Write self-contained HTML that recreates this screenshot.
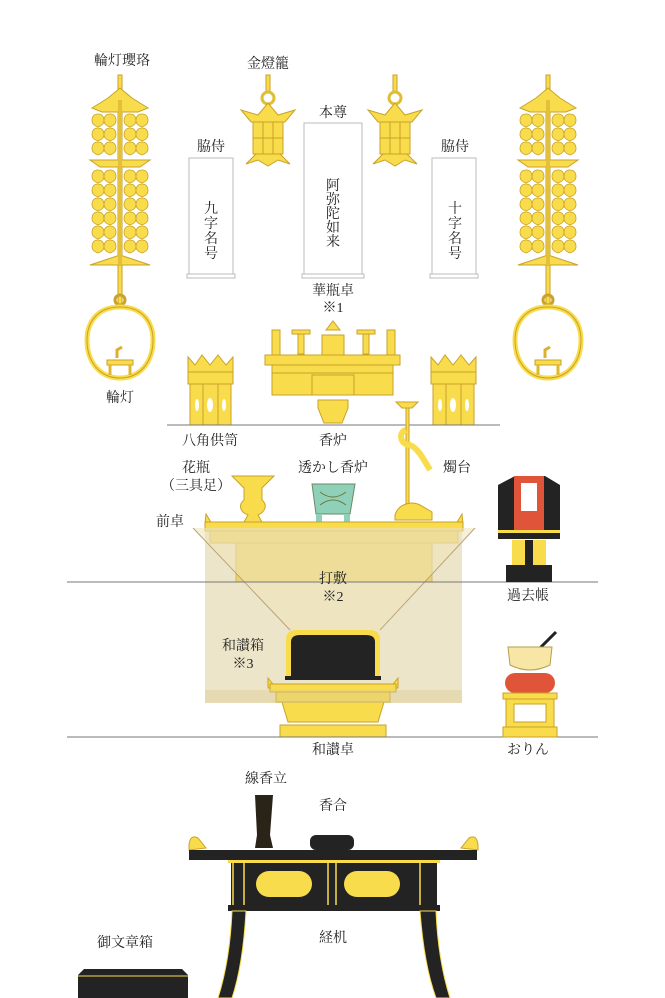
<!DOCTYPE html>
<html><head><meta charset="utf-8"><style>
html,body{margin:0;padding:0;background:#fff;}
svg{display:block;}
text{font-family:"Liberation Serif","Noto Serif CJK SC","Noto Sans CJK JP",serif;font-size:14px;fill:#222;text-anchor:middle;}
.g{fill:#f9dc4c;stroke:#c9a227;stroke-width:1;}
.k{fill:#232323;}
</style></head><body>
<svg width="665" height="998" viewBox="0 0 665 998" xmlns="http://www.w3.org/2000/svg">
<defs>
<g id="bead"><path d="M0 -6 C5 -6 6 -2 6 1 C6 4 3 6 0 7 C-3 6 -6 4 -6 1 C-6 -2 -5 -6 0 -6Z" fill="#f9dc4c" stroke="#c9a227" stroke-width="0.8"/></g>
</defs>
<!-- labels top -->
<text x="122" y="65">輪灯瓔珞</text>
<text x="268" y="68">金燈籠</text>
<text x="333" y="117">本尊</text>
<text x="211" y="151">脇侍</text>
<text x="455" y="151">脇侍</text>
<text x="333" y="295">華瓶卓</text>
<text x="333" y="312">※1</text>
<text x="120" y="402">輪灯</text>
<text x="210" y="445">八角供笥</text>
<text x="333" y="445">香炉</text>

<!-- scroll boxes -->
<rect x="189" y="158" width="44" height="116" fill="#fff" stroke="#bbb"/>
<rect x="187" y="274" width="48" height="4" fill="#fff" stroke="#bbb"/>
<rect x="304" y="123" width="58" height="151" fill="#fff" stroke="#bbb"/>
<rect x="302" y="274" width="62" height="4" fill="#fff" stroke="#bbb"/>
<rect x="432" y="158" width="44" height="116" fill="#fff" stroke="#bbb"/>
<rect x="430" y="274" width="48" height="4" fill="#fff" stroke="#bbb"/>
<g style="font-size:13px">
<text x="211" y="213">九</text><text x="211" y="228">字</text><text x="211" y="243">名</text><text x="211" y="258">号</text>
<text x="333" y="190">阿</text><text x="333" y="204">弥</text><text x="333" y="218">陀</text><text x="333" y="232">如</text><text x="333" y="246">来</text>
<text x="455" y="213">十</text><text x="455" y="228">字</text><text x="455" y="243">名</text><text x="455" y="258">号</text>
</g>

<!-- yoraku lanterns -->
<g id="yor">
<rect x="118" y="75" width="4" height="230" class="g"/>
<path d="M92 108 L108 98 L120 88 L132 98 L148 108 L138 112 L102 112Z" class="g"/>
<g>
<use href="#bead" x="98" y="120"/><use href="#bead" x="110" y="120"/><use href="#bead" x="130" y="120"/><use href="#bead" x="142" y="120"/>
<use href="#bead" x="98" y="134"/><use href="#bead" x="110" y="134"/><use href="#bead" x="130" y="134"/><use href="#bead" x="142" y="134"/>
<use href="#bead" x="98" y="148"/><use href="#bead" x="110" y="148"/><use href="#bead" x="130" y="148"/><use href="#bead" x="142" y="148"/>
</g>
<path d="M90 160 L150 160 L140 167 L100 167Z" class="g"/>
<g>
<use href="#bead" x="98" y="176"/><use href="#bead" x="110" y="176"/><use href="#bead" x="130" y="176"/><use href="#bead" x="142" y="176"/>
<use href="#bead" x="98" y="190"/><use href="#bead" x="110" y="190"/><use href="#bead" x="130" y="190"/><use href="#bead" x="142" y="190"/>
<use href="#bead" x="98" y="204"/><use href="#bead" x="110" y="204"/><use href="#bead" x="130" y="204"/><use href="#bead" x="142" y="204"/>
<use href="#bead" x="98" y="218"/><use href="#bead" x="110" y="218"/><use href="#bead" x="130" y="218"/><use href="#bead" x="142" y="218"/>
<use href="#bead" x="98" y="232"/><use href="#bead" x="110" y="232"/><use href="#bead" x="130" y="232"/><use href="#bead" x="142" y="232"/>
<use href="#bead" x="98" y="246"/><use href="#bead" x="110" y="246"/><use href="#bead" x="130" y="246"/><use href="#bead" x="142" y="246"/>
</g>
<path d="M90 265 L120 255 L150 265Z" class="g"/>
<rect x="118" y="100" width="4" height="165" fill="#e3bf3a"/>
</g>
<use href="#yor" transform="translate(428,0)"/>
<!-- ring lamps -->
<g id="rin">
<circle cx="120" cy="300" r="5" fill="none" stroke="#c9a227" stroke-width="3"/>
<path d="M120 307 C95 307 87 325 87 340 C87 362 100 378 120 378 C140 378 153 362 153 340 C153 325 145 307 120 307Z" fill="#fff" stroke="#f9dc4c" stroke-width="5"/>
<path d="M120 307 C95 307 87 325 87 340 C87 362 100 378 120 378 C140 378 153 362 153 340 C153 325 145 307 120 307Z" fill="none" stroke="#c9a227" stroke-width="1"/>
<rect x="107" y="360" width="26" height="5" class="g"/>
<path d="M110 365 L110 375 M130 365 L130 375" stroke="#e0b830" stroke-width="3"/>
<path d="M117 358 L117 350 L122 347" stroke="#d9b030" stroke-width="3" fill="none"/>
</g>
<use href="#rin" transform="translate(428,0)"/>

<!-- kin toro -->
<g id="toro">
<rect x="266" y="75" width="4" height="18" class="g"/>
<circle cx="268" cy="98" r="6" fill="none" stroke="#e0bd35" stroke-width="3"/>
<path d="M241 110 L258 115 L268 103 L278 115 L295 110 L285 122 L251 122Z" class="g"/>
<rect x="253" y="122" width="30" height="32" class="g"/>
<path d="M263 122 V154 M273 122 V154 M253 138 H283" stroke="#c9a227"/>
<path d="M246 164 L256 154 L280 154 L290 164 L278 160 L268 166 L258 160Z" class="g"/>
</g>
<use href="#toro" transform="translate(127,0)"/>

<!-- kebyo table -->
<g class="g">
<path d="M272 330 h8 v25 h-8z"/><path d="M387 330 h8 v25 h-8z"/>
<rect x="292" y="330" width="18" height="4"/><rect x="298" y="334" width="6" height="20"/>
<rect x="357" y="330" width="18" height="4"/><rect x="363" y="334" width="6" height="20"/>
<path d="M322 335 h22 v20 h-22z"/><path d="M326 330 L333 321 L340 330Z"/>
<rect x="265" y="355" width="135" height="10"/>
<rect x="272" y="365" width="121" height="8"/>
<rect x="272" y="373" width="121" height="22"/>
<rect x="312" y="375" width="42" height="20"/>
<path d="M318 400 h30 v8 l-6 15 h-18 l-6 -15z"/>
</g>
<!-- hexagonal kyosu -->
<g id="kyo">
<path d="M188 357 L195 365 L202 355 L210 365 L218 355 L226 365 L233 357 L233 372 L188 372Z" class="g"/>
<rect x="188" y="372" width="45" height="12" class="g"/>
<rect x="190" y="384" width="41" height="41" class="g"/>
<path d="M203 384 V425 M218 384 V425" stroke="#c9a227"/>
<ellipse cx="197" cy="405" rx="2" ry="6" fill="#fff"/>
<ellipse cx="210" cy="405" rx="3" ry="7" fill="#fff"/>
<ellipse cx="224" cy="405" rx="2" ry="6" fill="#fff"/>
</g>
<use href="#kyo" transform="translate(243,0)"/>
<line x1="167" y1="425" x2="500" y2="425" stroke="#777"/>

<!-- row 2 labels -->
<text x="196" y="472">花瓶</text>
<text x="196" y="490">（三具足）</text>
<text x="333" y="472">透かし香炉</text>
<text x="457" y="472">燭台</text>
<text x="170" y="526">前卓</text>

<!-- crane candle -->
<path d="M396 402 L418 402 L412 408 L402 408Z" class="g"/>
<rect x="406" y="408" width="3" height="110" class="g"/>
<path d="M406 430 C398 432 400 445 410 445 C418 448 424 460 430 470" stroke="#f9dc4c" stroke-width="6" fill="none"/>
<path d="M395 515 C398 505 410 500 420 505 L432 512 L432 520 L395 520Z" class="g"/>
<!-- vase -->
<path d="M232 476 L274 476 L262 488 L262 500 C268 505 265 512 258 515 L262 522 L244 522 L248 515 C240 512 238 505 244 500 L244 488Z" class="g"/>
<!-- green incense -->
<path d="M312 484 L355 484 L350 514 L316 514Z" fill="#8fd0b8" stroke="#6a8a6a"/>
<path d="M320 492 q13 10 26 0 M320 505 q13 -10 26 0" stroke="#6a7a40" fill="none"/>
<rect x="316" y="514" width="6" height="8" fill="#8fd0b8"/><rect x="344" y="514" width="6" height="8" fill="#8fd0b8"/>

<!-- front table -->
<g class="g">
<path d="M206 514 L212 524 L205 524Z"/><path d="M462 514 L456 524 L463 524Z"/>
<rect x="205" y="522" width="258" height="9"/>
<rect x="210" y="531" width="248" height="12"/>
<rect x="236" y="543" width="196" height="39"/>
</g>
<!-- overlay -->
<rect x="205" y="528" width="257" height="175" fill="#dccb95" opacity="0.5"/>
<path d="M193 528 L475 528 L380 630 L290 630Z" fill="#efe3b8" opacity="0.55"/>
<path d="M193 528 L290 630 M475 528 L380 630" stroke="#b8a578" stroke-width="1"/>
<line x1="67" y1="582" x2="598" y2="582" stroke="#777"/>
<text x="333" y="583">打敷</text>
<text x="333" y="601">※2</text>

<!-- kakocho -->
<path d="M498 485 L515 476 L545 476 L560 485 L560 530 L498 530Z" class="k"/>
<rect x="514" y="476" width="30" height="54" fill="#e0553a"/>
<rect x="521" y="483" width="16" height="28" fill="#fff"/>
<rect x="498" y="530" width="62" height="3" fill="#f9dc4c"/>
<rect x="498" y="533" width="62" height="6" class="k"/>
<path d="M512 540 L546 540 L546 565 L512 565Z" fill="#f9dc4c"/>
<rect x="525" y="540" width="8" height="26" class="k"/>
<rect x="506" y="565" width="46" height="17" class="k"/>
<text x="528" y="600">過去帳</text>

<!-- wasan box -->
<path d="M286 640 Q286 630 296 630 L370 630 Q380 630 380 640 L380 676 L286 676Z" fill="#f9dc4c"/>
<path d="M291 642 Q291 635 300 635 L366 635 Q375 635 375 642 L375 676 L291 676Z" class="k"/>
<rect x="285" y="676" width="96" height="4" class="k"/>
<g class="g">
<path d="M268 678 L276 688 L268 688Z"/><path d="M398 678 L390 688 L398 688Z"/>
<rect x="270" y="684" width="126" height="8"/>
<rect x="276" y="692" width="114" height="10"/>
<path d="M282 702 L384 702 L378 722 L288 722Z"/>
<rect x="280" y="725" width="106" height="12"/>
</g>
<rect x="205" y="690" width="257" height="13" fill="#dccb95" opacity="0.45"/>
<text x="243" y="650">和讃箱</text>
<text x="243" y="668">※3</text>
<line x1="67" y1="737" x2="598" y2="737" stroke="#777"/>
<text x="333" y="754">和讃卓</text>

<!-- orin -->
<line x1="540" y1="648" x2="556" y2="632" stroke="#222" stroke-width="3"/>
<path d="M508 647 L552 647 L550 665 Q530 675 510 665Z" fill="#f7e6a6" stroke="#b79f4a"/>
<rect x="505" y="673" width="50" height="20" rx="10" fill="#e0553a"/>
<rect x="503" y="693" width="54" height="6" class="g"/>
<rect x="506" y="699" width="48" height="28" class="g"/>
<rect x="514" y="704" width="32" height="18" fill="#fff" stroke="#c9a227"/>
<rect x="503" y="727" width="54" height="10" class="g"/>
<text x="528" y="754">おりん</text>

<!-- bottom -->
<text x="266" y="783">線香立</text>
<text x="333" y="810">香合</text>
<text x="125" y="947">御文章箱</text>
<text x="333" y="942">経机</text>
<path d="M255 795 L273 795 L270 835 L273 848 L255 848 L257 835Z" fill="#2a2418"/>
<rect x="310" y="835" width="44" height="15" rx="6" class="k"/>
<path d="M189 845 Q190 834 198 838 L206 848 L189 850Z" class="g"/>
<path d="M478 845 Q477 834 469 838 L461 848 L478 850Z" class="g"/>
<rect x="189" y="850" width="288" height="10" class="k"/>
<rect x="228" y="860" width="212" height="3" fill="#f9dc4c"/>
<rect x="231" y="863" width="206" height="42" class="k"/>
<path d="M233 863 V905 M244 863 V905 M328 863 V905 M336 863 V905 M420 863 V905" stroke="#f9dc4c" stroke-width="1.5"/>
<rect x="256" y="871" width="56" height="26" rx="13" fill="#f9dc4c"/>
<rect x="344" y="871" width="56" height="26" rx="13" fill="#f9dc4c"/>
<rect x="228" y="905" width="212" height="6" class="k"/>
<path d="M232 911 L246 911 Q243 965 232 998 L218 998 Q230 960 232 911Z" class="k" stroke="#f9dc4c"/>
<path d="M420 911 L436 911 Q438 960 450 998 L436 998 Q424 965 420 911Z" class="k" stroke="#f9dc4c"/>
<path d="M78 975 L84 969 L182 969 L188 975 L188 998 L78 998Z" class="k"/>
<line x1="78" y1="976" x2="188" y2="976" stroke="#f9dc4c"/>
</svg>
</body></html>
